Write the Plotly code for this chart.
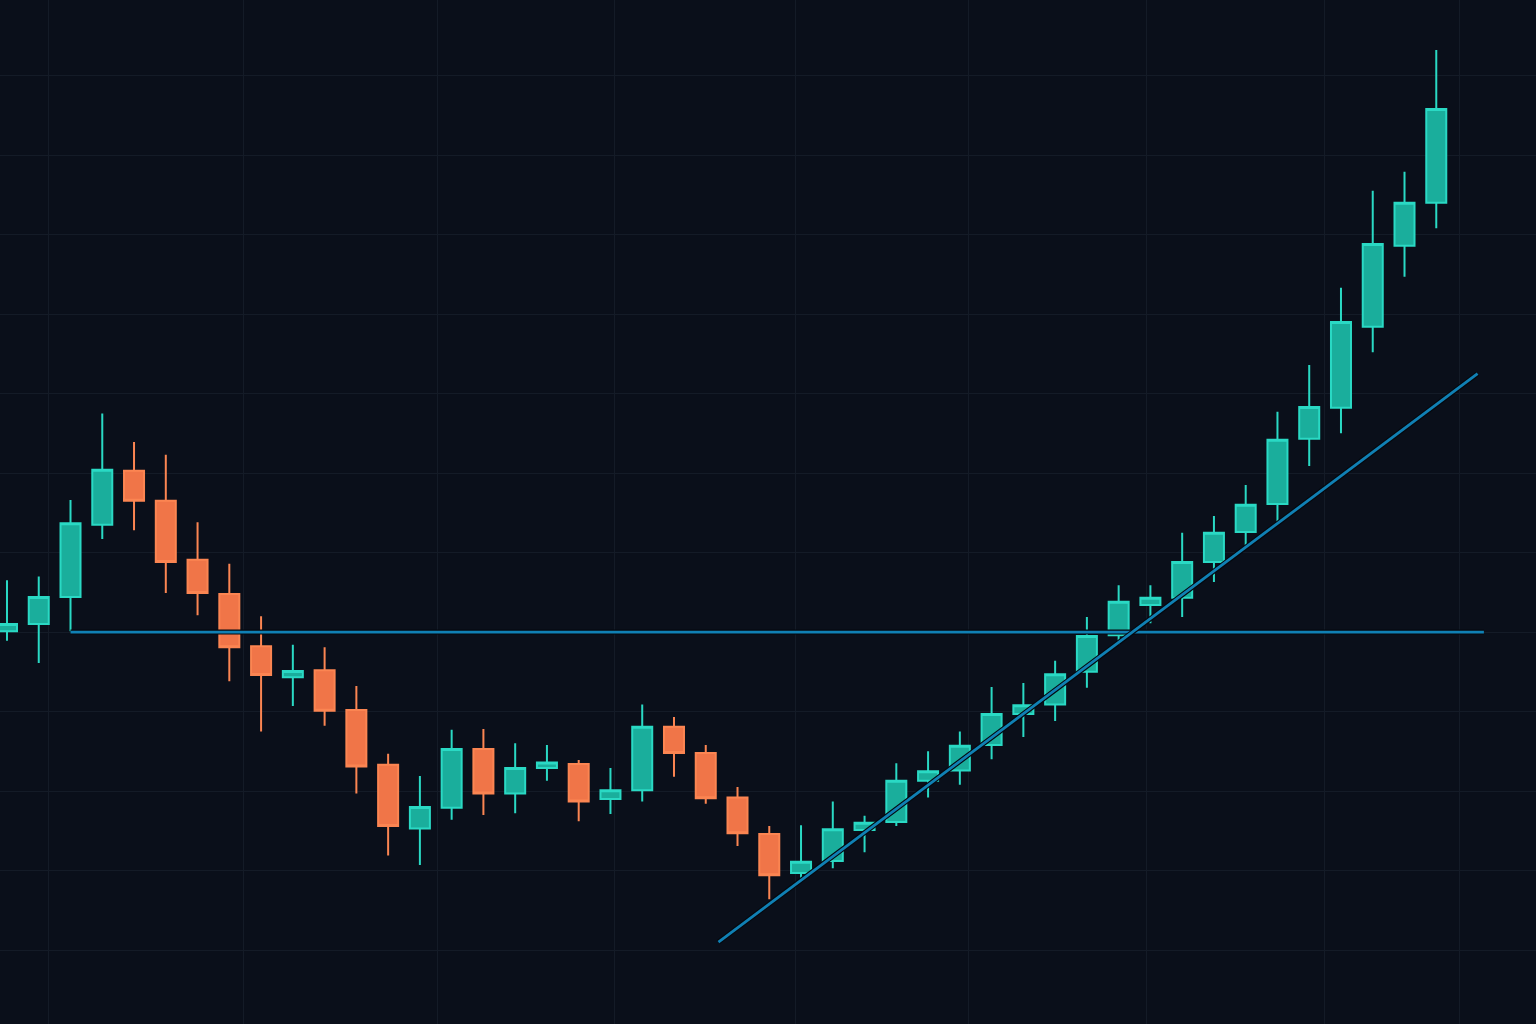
import plotly.graph_objects as go

# velas (indice da sessao)
sessoes = list(range(46))

abertura = [100.1, 101.0, 104.4, 113.5, 120.3, 116.5, 109.1, 104.8, 98.2, 94.3,
            95.2, 90.2, 83.3, 75.3, 77.9, 85.3, 79.7, 82.9, 83.4, 79.0,
            80.1, 88.1, 84.8, 79.2, 74.6, 69.7, 71.2, 75.1, 76.1, 81.3,
            82.6, 85.8, 89.7, 90.9, 95.0, 99.6, 103.4, 104.3, 108.8, 112.6,
            116.1, 124.3, 128.2, 138.4, 148.6, 154.0]
maxima = [106.5, 107.0, 116.6, 127.5, 123.9, 122.3, 113.8, 108.6, 102.0, 98.4,
          98.1, 93.2, 84.7, 81.9, 87.7, 87.8, 86.0, 85.8, 83.9, 82.9,
          90.9, 89.3, 85.8, 80.5, 75.6, 75.7, 78.7, 76.9, 83.5, 85.0,
          87.5, 93.1, 93.6, 96.4, 101.9, 105.9, 105.9, 112.5, 114.6, 118.5,
          127.7, 133.6, 143.3, 155.5, 157.9, 173.2]
minima = [98.9, 96.1, 100.1, 111.7, 112.8, 104.9, 102.1, 93.8, 87.5, 90.7,
          88.2, 79.7, 71.9, 70.7, 76.4, 77.0, 77.2, 81.3, 76.2, 77.1,
          78.7, 81.8, 78.4, 73.1, 66.4, 68.8, 70.3, 72.3, 75.6, 79.2,
          80.8, 84.0, 86.8, 88.8, 93.0, 98.4, 101.1, 101.9, 106.3, 110.7,
          113.7, 120.9, 125.0, 135.2, 144.7, 150.8]
fechamento = [101.0, 104.4, 113.7, 120.4, 116.5, 108.8, 104.9, 98.1, 94.6, 95.1,
              90.1, 83.1, 75.6, 78.0, 85.3, 79.7, 82.9, 83.6, 78.7, 80.1,
              88.1, 84.8, 79.1, 74.7, 69.4, 71.1, 75.2, 76.0, 81.3, 82.5,
              85.7, 89.7, 90.8, 94.7, 99.5, 103.8, 104.3, 108.8, 112.5, 116.0,
              124.2, 128.3, 139.0, 148.8, 154.0, 165.8]

# suporte horizontal e linha de tendencia
suporte_x = [2, 46.5]
suporte_y = [100, 100]
tendencia_x = [22.4, 46.3]
tendencia_y = [61.0, 132.5]

# linhas verticais da grade (posicao em sessoes)
grade_x = [1.32, 7.46, 13.54, 19.14, 24.84, 30.26, 35.89, 41.47, 45.72]

fundo = '#0a0f1a'
cor_grade = '#141b27'
cor_linha = '#1080b4'

fig = go.Figure()

fig.add_trace(go.Candlestick(
    x=sessoes,
    open=abertura,
    high=maxima,
    low=minima,
    close=fechamento,
    increasing=dict(line=dict(color='#2ad9c4', width=2), fillcolor='#1aae9c'),
    decreasing=dict(line=dict(color='#fb8552', width=2), fillcolor='#f07548'),
    whiskerwidth=0,
    showlegend=False,
))

# linhas por cima das velas, com contorno escuro fino
for xs, ys in [(suporte_x, suporte_y), (tendencia_x, tendencia_y)]:
    fig.add_trace(go.Scatter(
        x=xs, y=ys, mode='lines',
        line=dict(color='#05080e', width=5), hoverinfo='skip', showlegend=False,
    ))
    fig.add_trace(go.Scatter(
        x=xs, y=ys, mode='lines',
        line=dict(color=cor_linha, width=2.8), hoverinfo='skip', showlegend=False,
    ))

fig.update_layout(
    width=1536,
    height=1024,
    margin=dict(l=0, r=0, t=0, b=0),
    paper_bgcolor=fundo,
    plot_bgcolor=fundo,
    boxgap=0.1,
    xaxis=dict(
        range=[-0.22, 48.14],
        tickmode='array', tickvals=grade_x,
        showticklabels=False, showgrid=True, gridcolor=cor_grade, gridwidth=1.2,
        zeroline=False, showline=False,
        rangeslider=dict(visible=False),
    ),
    yaxis=dict(
        range=[50.7, 179.5],
        dtick=10, tick0=0,
        showticklabels=False, showgrid=True, gridcolor=cor_grade, gridwidth=1.2,
        zeroline=False, showline=False,
    ),
)

fig.write_html(
    "out.html",
    config={'displayModeBar': False},
    post_script="document.body.style.margin='0';document.body.style.background='%s';" % fundo,
)
